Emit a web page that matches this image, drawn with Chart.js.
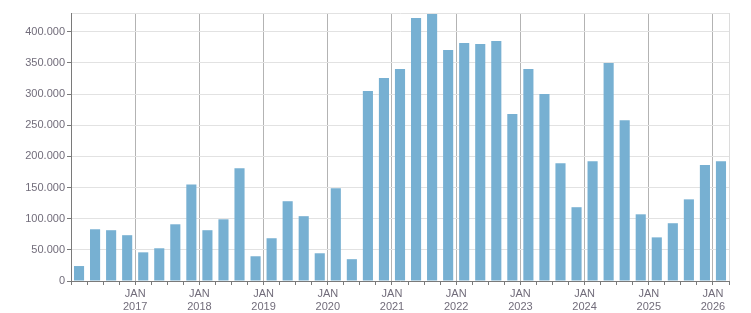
<!DOCTYPE html>
<html>
<head>
<meta charset="utf-8">
<script src="https://cdn.jsdelivr.net/npm/chart.js@4/dist/chart.umd.min.js"></script>
<style>
  html, body { margin: 0; padding: 0; background: #fff; }
  #wrap { width: 751px; height: 313px; }
</style>
</head>
<body>
<div id="wrap"><canvas id="quarters"></canvas></div>
<script>
// quarters, Q1 2016 .. Q1 2026
var quarters = [];
for (var y = 2016; y <= 2026; y++) {
    for (var q = 1; q <= 4; q++) {
        if (y === 2026 && q > 1) break;
        quarters.push(y + ' Q' + q);
    }
}

var values = [
    24000, 83000, 81500, 73500, 46000, 52500, 91000, 155000,
    81500, 99000, 181000, 39700, 68600, 128000, 104000, 44500,
    149000, 35000, 304700, 325600, 340000, 422000, 428400, 370600,
    381800, 380300, 385000, 267800, 340000, 300000, 189000, 118400,
    192000, 349700, 258000, 107000, 70000, 92700, 131000, 186000,
    192000
];

var yTicks = [0, 50000, 100000, 150000, 200000, 250000, 300000, 350000, 400000];
var yMax = 430000;

var textColor = '#716c7a';
var axisColor = '#7a7a7a';

function fmt(v) {
    return String(v).replace(/\B(?=(\d{3})+(?!\d))/g, '.');
}

var ctx = document.getElementById('quarters');
new Chart(ctx, {
    type: 'bar',
    data: {
        labels: quarters,
        datasets: [{
            label: 'Value',
            data: values,
            backgroundColor: '#77b0d2',
            barPercentage: 0.63,
            categoryPercentage: 1.0
        }]
    },
    options: {
        responsive: true,
        maintainAspectRatio: false,
        animation: false,
        layout: { padding: { top: 13, right: 22, left: 0, bottom: 0 } },
        plugins: {
            legend: { display: false },
            tooltip: { enabled: false }
        },
        scales: {
            x: {
                offset: true,
                grid: {
                    offset: true,
                    color: function(c) {
                        if (c.index === undefined) return '#dcdcdc';
                        return c.index % 4 === 0 ? '#b3b3b3' : 'transparent';
                    },
                    tickColor: axisColor,
                    tickLength: 4,
                    drawTicks: true
                },
                border: { color: axisColor },
                ticks: {
                    autoSkip: false,
                    maxRotation: 0,
                    minRotation: 0,
                    labelOffset: -8,
                    padding: 2,
                    color: textColor,
                    font: { family: 'Liberation Sans', size: 11 },
                    callback: function(v, i) {
                        var lab = quarters[i];
                        if (i > 0 && lab.slice(-2) === 'Q1') return ['JAN', lab.slice(0, 4)];
                        return '';
                    }
                },
                afterFit: function(s) { s.height = 32; }
            },
            y: {
                min: 0,
                max: yMax,
                grid: {
                    color: '#e2e2e2',
                    tickColor: function(c) {
                        return c.tick && c.tick.value === yMax ? 'transparent' : axisColor;
                    },
                    tickLength: 4
                },
                border: { color: axisColor },
                ticks: {
                    padding: 2,
                    color: textColor,
                    font: { family: 'Liberation Sans', size: 11 },
                    callback: function(v) {
                        return yTicks.indexOf(v) >= 0 ? fmt(v) : '';
                    }
                },
                afterBuildTicks: function(s) {
                    s.ticks = yTicks.concat([yMax]).map(function(v) { return { value: v }; });
                },
                afterFit: function(s) { s.width = 71; }
            }
        }
    }
});
</script>
</body>
</html>
